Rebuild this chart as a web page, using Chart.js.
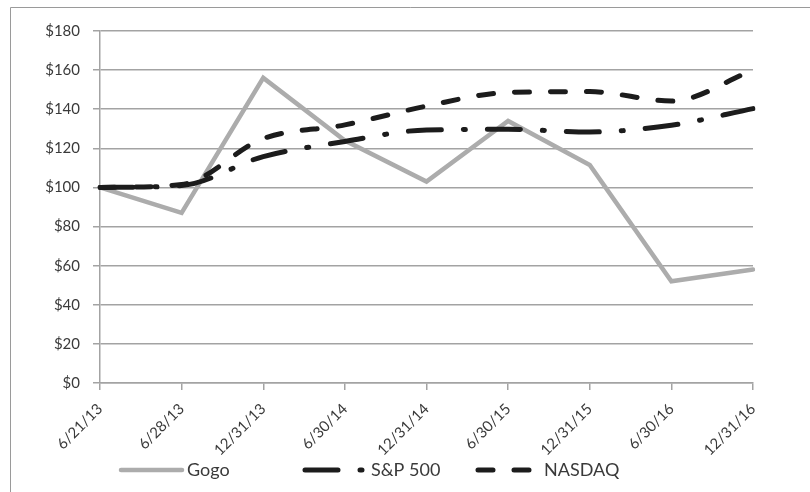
<!DOCTYPE html>
<html>
<head>
<meta charset="utf-8">
<script src="https://cdn.jsdelivr.net/npm/chart.js@4/dist/chart.umd.min.js"></script>
<style>
  html, body { margin: 0; padding: 0; background: #fff; }
  #wrap { width: 810px; height: 492px; }
</style>
</head>
<body>
<div id="wrap"><canvas id="c" width="810" height="492"></canvas></div>
<script>
const categories = ['6/21/13', '6/28/13', '12/31/13', '6/30/14', '12/31/14', '6/30/15', '12/31/15', '6/30/16', '12/31/16'];
const seriesNames = ['Gogo', 'S&P 500', 'NASDAQ'];
const gogoValues = [100, 87, 156, 124, 103, 134, 111.5, 52, 58];
const sp500Values = [100, 101, 115.8, 123.5, 129.4, 129.7, 128.4, 131.8, 140.3];
const nasdaqValues = [100, 101.5, 125, 132, 141.6, 148.6, 149, 144.2, 160];
const yTicks = [0, 20, 40, 60, 80, 100, 120, 140, 160, 180];

const FONT = 'Lato';
const TEXT = '#3a3a3a';
const GRID = '#a3a3a3';

const frame = {
  id: 'frame',
  beforeDraw(chart) {
    const ctx = chart.ctx;
    ctx.save();
    ctx.fillStyle = '#fff';
    ctx.fillRect(0, 0, chart.width, chart.height);
    ctx.strokeStyle = '#9a9a9a';
    ctx.lineWidth = 1;
    ctx.beginPath();
    ctx.moveTo(10.5, chart.height);
    ctx.lineTo(10.5, 7.5);
    ctx.lineTo(chart.width, 7.5);
    ctx.stroke();
    ctx.restore();
  }
};

const legendPlugin = {
  id: 'customLegend',
  afterDraw(chart) {
    const ctx = chart.ctx;
    const starts = [121, 305, 478];
    const sampleLen = 61;
    const y = 470;
    ctx.save();
    chart.data.datasets.forEach((ds, i) => {
      const x0 = starts[i];
      ctx.beginPath();
      ctx.strokeStyle = ds.borderColor;
      ctx.lineWidth = ds.borderWidth;
      ctx.lineCap = ds.borderCapStyle || 'butt';
      ctx.setLineDash(ds.borderDash || []);
      ctx.moveTo(x0, y);
      ctx.lineTo(x0 + sampleLen, y);
      ctx.stroke();
      ctx.setLineDash([]);
      ctx.fillStyle = TEXT;
      ctx.font = '18px ' + FONT;
      ctx.textAlign = 'left';
      ctx.textBaseline = 'middle';
      ctx.fillText(ds.label, x0 + sampleLen + 5, y);
    });
    ctx.restore();
  }
};

new Chart(document.getElementById('c'), {
  type: 'line',
  data: {
    labels: categories,
    datasets: [
      {
        label: seriesNames[0],
        data: gogoValues,
        borderColor: '#acacac',
        borderWidth: 4.5,
        borderCapStyle: 'round',
        borderJoinStyle: 'miter',
        tension: 0,
        pointRadius: 0,
        order: 3
      },
      {
        label: seriesNames[1],
        data: sp500Values,
        borderColor: '#1c1c1c',
        borderWidth: 5,
        borderDash: [33, 22, 2, 22],
        borderCapStyle: 'round',
        cubicInterpolationMode: 'monotone',
        pointRadius: 0,
        order: 2
      },
      {
        label: seriesNames[2],
        data: nasdaqValues,
        borderColor: '#1c1c1c',
        borderWidth: 5,
        borderDash: [15, 21],
        borderCapStyle: 'round',
        cubicInterpolationMode: 'monotone',
        pointRadius: 0,
        order: 1
      }
    ]
  },
  options: {
    responsive: false,
    animation: false,
    devicePixelRatio: 1,
    layout: { padding: { top: 31, right: 57, left: 0, bottom: 0 } },
    plugins: {
      legend: { display: false },
      tooltip: { enabled: false }
    },
    scales: {
      x: {
        type: 'category',
        offset: false,
        afterFit(scale) { scale.height = 109; },
        grid: {
          display: true,
          drawOnChartArea: false,
          drawTicks: true,
          tickLength: 7,
          color: GRID,
          lineWidth: 1.5
        },
        border: { display: true, color: GRID, width: 1.5 },
        ticks: {
          autoSkip: false,
          maxRotation: 45,
          minRotation: 45,
          padding: 10,
          color: TEXT,
          font: { family: FONT, size: 15 }
        }
      },
      y: {
        min: 0,
        max: 180,
        afterFit(scale) { scale.width = 100; },
        afterBuildTicks(scale) { scale.ticks = yTicks.map(v => ({ value: v })); },
        grid: {
          color: GRID,
          lineWidth: 1.5,
          tickLength: 7,
          drawTicks: true
        },
        border: { display: true, color: GRID, width: 1.5 },
        ticks: {
          padding: 13,
          color: TEXT,
          font: { family: FONT, size: 15 },
          callback: v => '$' + v
        }
      }
    }
  },
  plugins: [frame, legendPlugin]
});
</script>
</body>
</html>
